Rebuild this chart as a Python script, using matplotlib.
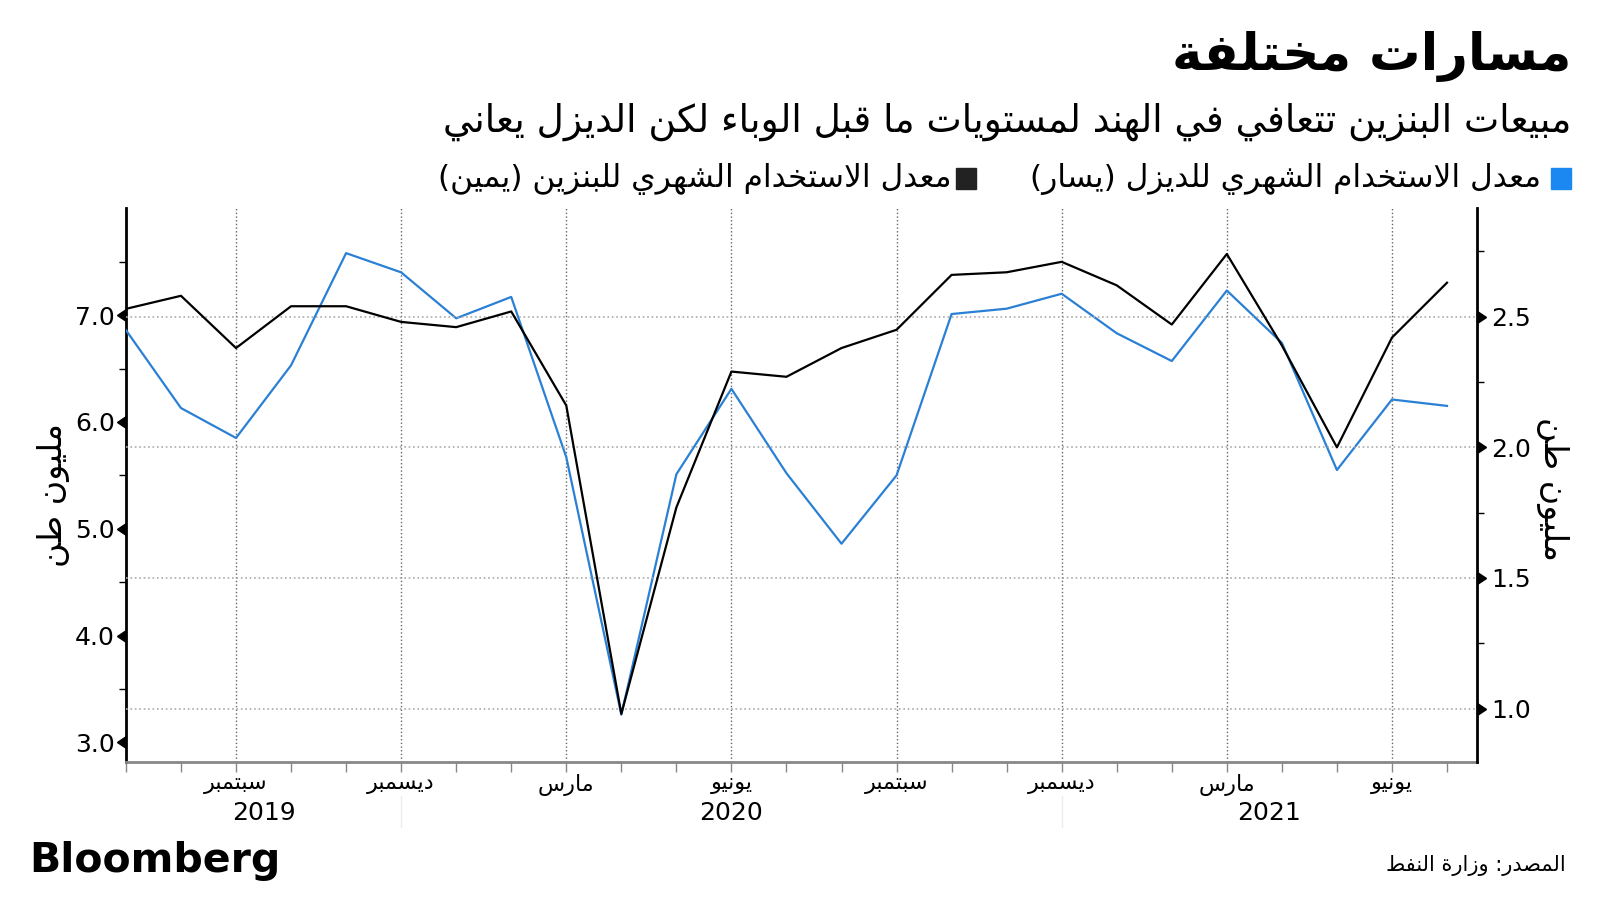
import numpy as np
import pandas as pd
import matplotlib
matplotlib.use('Agg')
import matplotlib.pyplot as plt
import matplotlib.transforms as mtransforms
from matplotlib.lines import CARETLEFTBASE, CARETRIGHTBASE
from matplotlib.patches import Rectangle
from matplotlib.ticker import FormatStrFormatter

# arabic shaping by hand (no arabic_reshaper / bidi here)
JOIN = {
    'ء': (0xFE80, 1), 'آ': (0xFE81, 2), 'أ': (0xFE83, 2), 'ؤ': (0xFE85, 2), 'إ': (0xFE87, 2),
    'ئ': (0xFE89, 4), 'ا': (0xFE8D, 2), 'ب': (0xFE8F, 4), 'ة': (0xFE93, 2), 'ت': (0xFE95, 4),
    'ث': (0xFE99, 4), 'ج': (0xFE9D, 4), 'ح': (0xFEA1, 4), 'خ': (0xFEA5, 4), 'د': (0xFEA9, 2),
    'ذ': (0xFEAB, 2), 'ر': (0xFEAD, 2), 'ز': (0xFEAF, 2), 'س': (0xFEB1, 4), 'ش': (0xFEB5, 4),
    'ص': (0xFEB9, 4), 'ض': (0xFEBD, 4), 'ط': (0xFEC1, 4), 'ظ': (0xFEC5, 4), 'ع': (0xFEC9, 4),
    'غ': (0xFECD, 4), 'ف': (0xFED1, 4), 'ق': (0xFED5, 4), 'ك': (0xFED9, 4), 'ل': (0xFEDD, 4),
    'م': (0xFEE1, 4), 'ن': (0xFEE5, 4), 'ه': (0xFEE9, 4), 'و': (0xFEED, 2), 'ى': (0xFEEF, 2),
    'ي': (0xFEF1, 4),
}
LAMALEF = {'آ': 0xFEF5, 'أ': 0xFEF7, 'إ': 0xFEF9, 'ا': 0xFEFB}


def reshape(s):
    out = []
    i = 0
    while i < len(s):
        c = s[i]
        prev = s[i - 1] if i > 0 else ''
        con_prev = c in JOIN and JOIN[c][1] > 1 and prev in JOIN and JOIN[prev][1] == 4
        if c == 'ل' and i + 1 < len(s) and s[i + 1] in LAMALEF:
            out.append(chr(LAMALEF[s[i + 1]] + (1 if con_prev else 0)))
            i += 2
            continue
        if c not in JOIN:
            out.append(c)
            i += 1
            continue
        base, nf = JOIN[c]
        nxt = s[i + 1] if i + 1 < len(s) else ''
        con_next = nf == 4 and nxt in JOIN and JOIN[nxt][1] > 1
        if nf == 1:
            form = 0
        elif con_prev and con_next:
            form = 3
        elif con_next:
            form = 2
        elif con_prev:
            form = 1
        else:
            form = 0
        out.append(chr(base + form))
        i += 1
    return ''.join(out)


def ar(s):
    return reshape(s)[::-1].translate(str.maketrans('()', ')('))


# data, Jul 2019 .. Jul 2021
months = pd.date_range('2019-07-01', periods=25, freq='MS')
diesel = [6.86, 6.13, 5.85, 6.53, 7.58, 7.40, 6.97, 7.17, 5.67, 3.26, 5.51, 6.31, 5.52,
          4.86, 5.50, 7.01, 7.06, 7.20, 6.83, 6.57, 7.23, 6.74, 5.55, 6.21, 6.15]
petrol = [2.53, 2.58, 2.38, 2.54, 2.54, 2.48, 2.46, 2.52, 2.16, 0.98, 1.77, 2.29, 2.27,
          2.38, 2.45, 2.66, 2.67, 2.71, 2.62, 2.47, 2.74, 2.39, 2.00, 2.42, 2.63]
month_names = {9: 'سبتمبر', 12: 'ديسمبر', 3: 'مارس', 6: 'يونيو'}
left_ticks = [3.0, 4.0, 5.0, 6.0, 7.0]
right_ticks = [1.0, 1.5, 2.0, 2.5]
year_labels = ['2019', '2020', '2021']

title = 'مسارات مختلفة'
subtitle = 'مبيعات البنزين تتعافي في الهند لمستويات ما قبل الوباء لكن الديزل يعاني'
leg_diesel = 'معدل الاستخدام الشهري للديزل (يسار)'
leg_petrol = 'معدل الاستخدام الشهري للبنزين (يمين)'
unit = 'مليون طن'
source = 'المصدر: وزارة النفط'

BLUE = '#2a80d4'

x = np.arange(len(months))

fig = plt.figure(figsize=(16, 9), dpi=100)
ax = fig.add_axes([0.0787, 0.1537, 0.8446, 0.6149])
ax2 = ax.twinx()

ax.set_xlim(0, 24.55)
ax.set_ylim(2.82, 8.0)
ax2.set_ylim(0.797, 2.915)

ax.plot(x, diesel, color=BLUE, lw=1.6, zorder=3)
ax2.plot(x, petrol, color='black', lw=1.6, zorder=3)

# x ticks
major_idx = [i for i, m in enumerate(months) if m.month in month_names]
ax.set_xticks(major_idx)
ax.set_xticklabels([ar(month_names[months[i].month]) for i in major_idx])
ax.set_xticks(x, minor=True)
ax.tick_params(axis='x', which='both', length=7, width=1, color='#888888',
               labelsize=16, pad=2)

# y ticks
ax.set_yticks(left_ticks)
ax.yaxis.set_major_formatter(FormatStrFormatter('%.1f'))
ax.set_yticks(np.arange(3.5, 8.0, 1.0), minor=True)
ax.tick_params(axis='y', which='major', length=0, pad=8, labelsize=18)
ax.tick_params(axis='y', which='minor', length=5, width=1)

ax2.set_yticks(right_ticks)
ax2.yaxis.set_major_formatter(FormatStrFormatter('%.1f'))
ax2.set_yticks([1.25, 1.75, 2.25, 2.75], minor=True)
ax2.tick_params(axis='y', which='major', length=0, pad=10, labelsize=18)
ax2.tick_params(axis='y', which='minor', length=5, width=1)

# triangle tick marks
tl = mtransforms.blended_transform_factory(ax.transAxes, ax.transData)
ax.plot(np.zeros(len(left_ticks)), left_ticks, ls='none', marker=CARETLEFTBASE, ms=9,
        color='black', transform=tl, clip_on=False)
tr = mtransforms.blended_transform_factory(ax2.transAxes, ax2.transData)
ax2.plot(np.ones(len(right_ticks)), right_ticks, ls='none', marker=CARETRIGHTBASE, ms=9,
         color='black', transform=tr, clip_on=False)

# grids
ax.grid(axis='x', which='major', linestyle=':', color='#666666', lw=1)
ax2.grid(axis='y', which='major', linestyle=':', color='#aaaaaa', lw=1.2)

# spines
ax.spines['top'].set_visible(False)
ax.spines['right'].set_visible(False)
ax.spines['left'].set_linewidth(2)
ax.spines['bottom'].set_color('#888888')
ax.spines['bottom'].set_linewidth(2)
for s in ['top', 'left', 'bottom']:
    ax2.spines[s].set_visible(False)
ax2.spines['right'].set_linewidth(2)

# year labels under the month labels
tx = mtransforms.blended_transform_factory(ax.transData, ax.transAxes)
dec_idx = [i for i, m in enumerate(months) if m.month == 12]
bounds = [0] + dec_idx + [ax.get_xlim()[1]]
for k, lab in enumerate(year_labels):
    ax.text((bounds[k] + bounds[k + 1]) / 2, -0.0927, lab, ha='center', va='center',
            fontsize=18, transform=tx)
for b in dec_idx:
    ax.plot([b, b], [-0.062, -0.118], color='#eeeeee', lw=1, transform=tx, clip_on=False)

# unit labels
fig.text(54 / 1600, 1 - 495 / 900, ar(unit), rotation=90, ha='center', va='center', fontsize=24)
fig.text(1553 / 1600, 1 - 489 / 900, ar(unit), rotation=270, ha='center', va='center', fontsize=24)

# headers
fig.text(1571 / 1600, 1 - 57 / 900, ar(title), ha='right', va='center', fontsize=37,
         fontweight='bold')
fig.text(1571 / 1600, 1 - 122 / 900, ar(subtitle), ha='right', va='center', fontsize=27)

# legend
fig.patches.append(Rectangle((1551 / 1600, 1 - 189 / 900), 20 / 1600, 21 / 900,
                             color='#1a88f0', transform=fig.transFigure))
fig.text(1541 / 1600, 1 - 179 / 900, ar(leg_diesel), ha='right', va='center', fontsize=22.5)
fig.patches.append(Rectangle((956 / 1600, 1 - 189 / 900), 20 / 1600, 21 / 900,
                             color='#222222', transform=fig.transFigure))
fig.text(951 / 1600, 1 - 179 / 900, ar(leg_petrol), ha='right', va='center', fontsize=22.5)

# footer
fig.text(29 / 1600, 1 - 861 / 900, 'Bloomberg', ha='left', va='center', fontsize=29.5,
         fontweight='heavy')
fig.text(1566 / 1600, 1 - 865 / 900, ar(source), ha='right', va='center', fontsize=15)

fig.savefig('out.png', dpi=100)
